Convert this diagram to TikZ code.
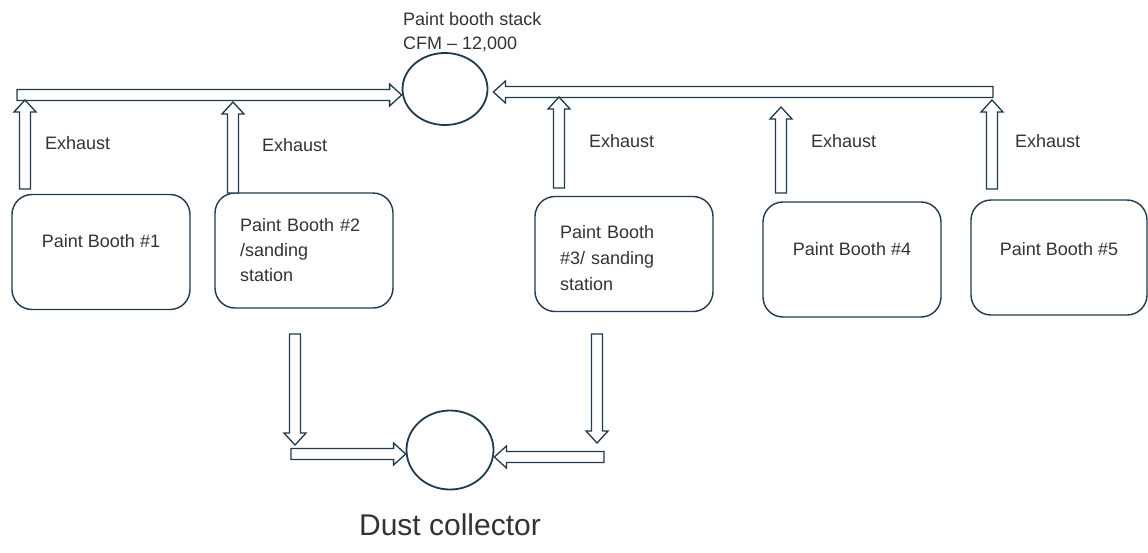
\documentclass[tikz,border=0pt]{standalone}
\usepackage{fontspec}
\setmainfont{Liberation Sans}
\usetikzlibrary{calc,shapes.geometric}
\definecolor{pipe}{HTML}{1E3A4C}
\definecolor{ink}{HTML}{333333}
\tikzset{
	booth/.style={draw=pipe, line width=1.4pt, rounded corners=20pt, minimum width=178pt, minimum height=115pt, text=ink, font=\fontsize{18}{25}\selectfont},
	boothtxt/.style={text width=128pt, align=left},
	stack/.style={draw=pipe, line width=1.8pt, ellipse, inner sep=0pt},
	lbl/.style={text=ink, font=\fontsize{18}{25}\selectfont, anchor=west, inner sep=0pt},
	hollow/.style={draw=pipe, line width=1.3pt, fill=white, to path={
		let \p1=(\tikztostart), \p2=(\tikztotarget),
		\n1={atan2(\y2-\y1,\x2-\x1)}, \n2={veclen(\x2-\x1,\y2-\y1)} in
		[shift={(\p1)}, rotate=\n1]
		(0pt,-5.5pt) -- ({\n2-12pt},-5.5pt) -- ({\n2-12pt},-11pt) -- ({\n2*1pt},0pt)
		-- ({\n2-12pt},11pt) -- ({\n2-12pt},5.5pt) -- (0pt,5.5pt) -- cycle}},
}
\begin{document}
\begin{tikzpicture}[x=1pt,y=-1pt]
	\useasboundingbox (0,0) rectangle (1148,552);
	% stacks
	\node[stack, minimum width=85pt, minimum height=72pt] (stack) at (445,89) {};
	\node[stack, minimum width=87pt, minimum height=79pt] (dust) at (450,450) {};
	\node[lbl] (stacklbl) at (403,19) {Paint booth stack};
	\node[lbl] (cfm) at (403,44) {CFM – 12,000};
	\node[text=ink, font=\fontsize{30}{32}\selectfont] (dustlbl) at (450,525) {Dust collector};
	% booths
	\node[booth, text depth=23pt] (b1) at (101,252) {Paint Booth \#1};
	\node[booth, boothtxt] (b2) at (304,250.5) {Paint Booth \#2\\/sanding\\station};
	\node[booth, boothtxt, font=\fontsize{18}{26}\selectfont, text height=21pt] (b3) at (624,254) {Paint Booth\\\#3/ sanding\\station};
	\node[booth, text depth=22pt] (b4) at (852,259.5) {Paint Booth \#4};
	\node[booth, text depth=18pt, minimum width=176pt] (b5) at (1059,257.5) {Paint Booth \#5};
	% exhaust header
	\coordinate (ml) at (17,95);
	\coordinate (mr) at (993,92);
	\draw[hollow] (ml) to (ml -| stack.west);
	\draw[hollow] (mr) to ([xshift=5pt]mr -| stack.east);
	\coordinate (t1) at (25,189);  \coordinate (h1) at (25,100);
	\coordinate (t2) at (233,193); \coordinate (h2) at (233,102);
	\coordinate (t3) at (559,188); \coordinate (h3) at (559,97);
	\coordinate (t4) at (781,193); \coordinate (h4) at (781,107);
	\coordinate (t5) at (992,189); \coordinate (h5) at (992,100);
	\foreach \i in {1,...,5}
		\draw[hollow] (t\i) to (h\i);
	\node[lbl] (ex1) at (45,143) {Exhaust};
	\node[lbl] (ex2) at (262,145) {Exhaust};
	\node[lbl] (ex3) at (589,141) {Exhaust};
	\node[lbl] (ex4) at (811,141) {Exhaust};
	\node[lbl] (ex5) at (1015,141) {Exhaust};
	% dust collector feed
	\coordinate (d1) at (295,334); \coordinate (e1) at (295,445);
	\coordinate (d2) at (597,334); \coordinate (e2) at (597,443);
	\draw[hollow] (d1) to (e1);
	\draw[hollow] (d2) to (e2);
	\coordinate (l1) at (291,454);
	\coordinate (r1) at (604,457);
	\draw[hollow] (l1) to (l1 -| dust.west);
	\draw[hollow] (r1) to (r1 -| dust.east);
\end{tikzpicture}
\end{document}
